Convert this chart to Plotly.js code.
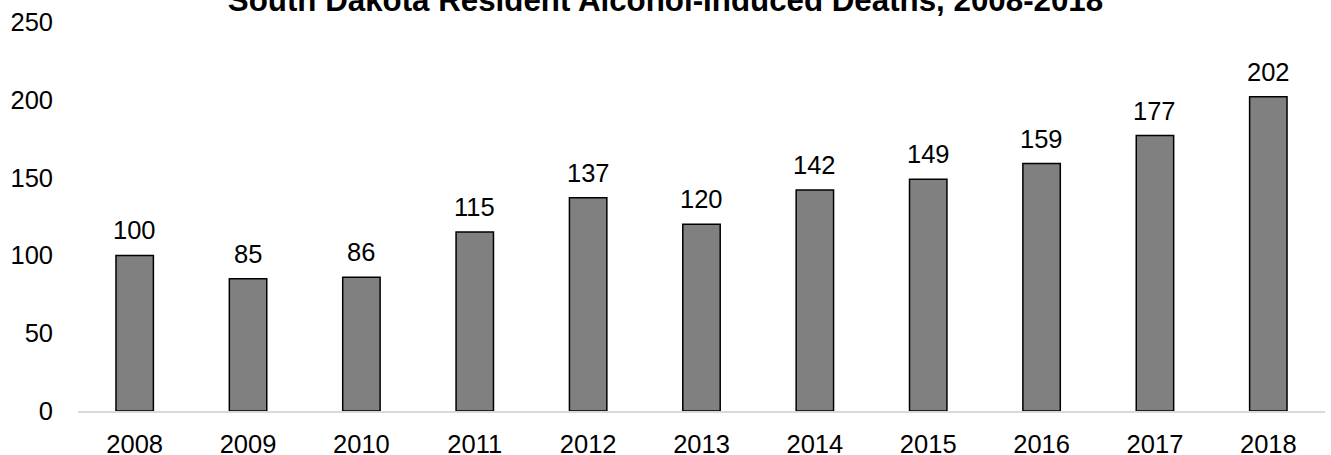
<!DOCTYPE html>
<html>
<head>
<meta charset="utf-8">
<script src="https://cdn.plot.ly/plotly-3.0.1.min.js"></script>
<style>html,body{margin:0;padding:0;background:#fff;}#chart{width:1331px;height:455px;}</style>
</head>
<body>
<div id="chart"></div>
<script>
const years = ["2008","2009","2010","2011","2012","2013","2014","2015","2016","2017","2018"];
const deaths = [100, 85, 86, 115, 137, 120, 142, 149, 159, 177, 202];
const yTicks = [0, 50, 100, 150, 200, 250];
const chartTitle = "South Dakota Resident Alcohol-Induced Deaths, 2008-2018";

const font = "Liberation Sans, Arial, sans-serif";
const fs = 25.5;

const trace = {
  type: "bar",
  x: years,
  y: deaths,
  marker: {color: "#808080", line: {color: "#000000", width: 1.5}},
  hoverinfo: "x+y"
};

// category axis: annotation x given as category index
const annotations = years.map((yr, i) => ({
  x: i, y: deaths[i], xref: "x", yref: "y",
  text: String(deaths[i]), showarrow: false,
  yanchor: "bottom", yshift: 9,
  font: {family: font, size: fs, color: "#000"}
}));

const layout = {
  width: 1331, height: 455,
  margin: {l: 78, r: 6, t: 22, b: 44, pad: 0},
  paper_bgcolor: "#fff", plot_bgcolor: "#fff",
  showlegend: false,
  bargap: 0.67,
  title: {
    text: "<b>" + chartTitle + "</b>",
    font: {family: font, size: 31.3, color: "#000"},
    x: 0.5, xref: "container", xanchor: "center",
    y: 1, yref: "container", yanchor: "middle"
  },
  xaxis: {
    type: "category",
    categoryorder: "array", categoryarray: years,
    range: [-0.5, years.length - 0.5],
    showgrid: false, zeroline: false,
    showline: true, linecolor: "#d9d9d9", linewidth: 1.5,
    ticks: "", ticklabelstandoff: 10,
    tickfont: {family: font, size: fs, color: "#000"}
  },
  yaxis: {
    range: [0, 250],
    tickvals: yTicks,
    ticktext: yTicks.map(String),
    showgrid: false, zeroline: false, showline: false,
    ticks: "", ticklabelstandoff: 24,
    tickfont: {family: font, size: fs, color: "#000"}
  },
  annotations: annotations
};

Plotly.newPlot("chart", [trace], layout, {displayModeBar: false, staticPlot: true});
</script>
</body>
</html>
